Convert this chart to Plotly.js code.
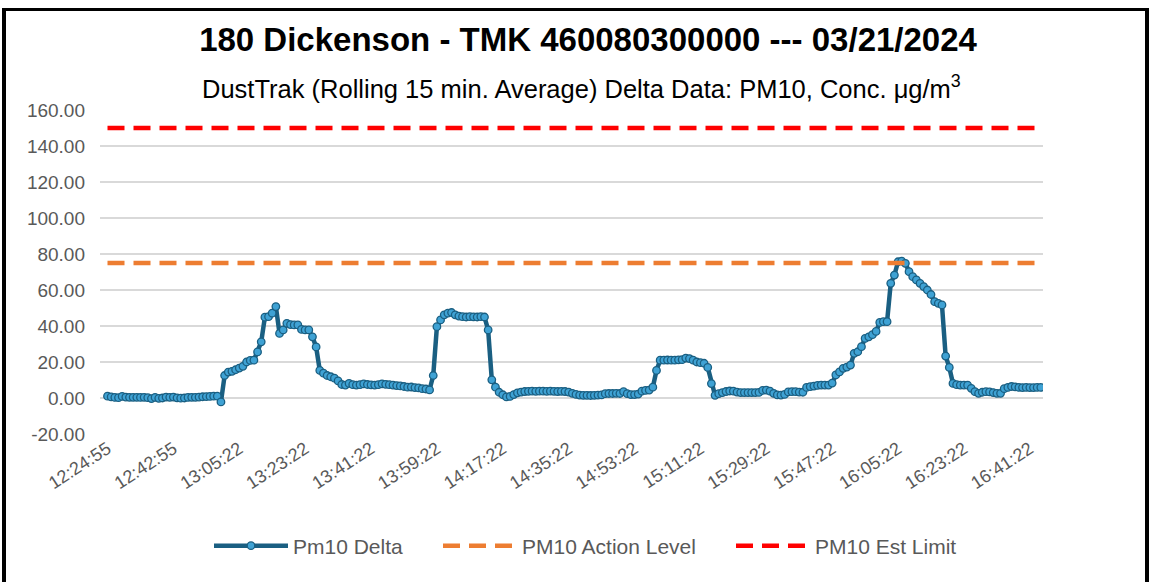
<!DOCTYPE html>
<html>
<head>
<meta charset="utf-8">
<script src="https://cdn.plot.ly/plotly-3.0.1.min.js"></script>
<style>
  html, body { margin: 0; padding: 0; background: #fff; }
  #wrap { position: relative; width: 1153px; height: 582px; overflow: hidden; }
  #chart { position: absolute; left: 0; top: 0; width: 1153px; height: 582px; }
  #frame { position: absolute; left: 2px; top: 8px; width: 1139px; height: 600px;
           border-left: 4px solid #000; border-top: 3px solid #000; border-right: 4px solid #000;
           pointer-events: none; }
</style>
</head>
<body>
<div id="wrap">
  <div id="chart"></div>
  <div id="frame"></div>
</div>
<script>
// Tick labels shown every 18 readings on the category axis
const tickLabels = ["12:24:55","12:42:55","13:05:22","13:23:22","13:41:22","13:59:22","14:17:22",
  "14:35:22","14:53:22","15:11:22","15:29:22","15:47:22","16:05:22","16:23:22","16:41:22"];
const labelStep = 18;

// Y axis tick values
const yTicks = [-20, 0, 20, 40, 60, 80, 100, 120, 140, 160];

// Pm10 Delta readings (rolling 15 min average), one per category
const pm10Delta = [
  1.0, 0.6, 0.3, 0.2, 0.9, 0.5, 0.4, 0.4, 0.4, 0.3, 0.4, 0.2, -0.3, 0.3, -0.2, 0.0, 0.5, 0.4, 0.5, 0.1,
  -0.1, 0.0, 0.3, 0.4, 0.4, 0.5, 0.7, 0.8, 0.9, 1.0, 1.0,
  -2.2, 12.5, 14.4, 14.8, 15.7, 16.6, 17.6, 20.0, 20.9, 21.0,
  25.6, 31.2, 44.9, 45.2, 47.1, 50.8, 35.9, 37.8, 41.5, 40.8,
  40.6, 40.6, 38.1, 37.8, 37.8, 34.0, 28.4, 15.3, 13.8, 12.5,
  11.8, 11.0, 9.5, 7.5, 7.2, 8.1, 7.4, 7.2, 7.4, 7.8,
  7.5, 7.3, 7.2, 7.4, 7.9, 7.6, 7.4, 7.2, 6.9, 6.7,
  6.4, 6.0, 6.1, 5.8, 5.6, 5.2, 5.0, 4.5, 12.5, 39.6,
  43.4, 46.2, 47.1, 47.5, 46.2, 45.5, 45.2, 45.0, 45.2, 45.1,
  45.0, 45.2, 45.0, 37.8, 10.1, 6.0, 3.2, 1.8, 0.6, 0.9,
  1.9, 2.9, 3.3, 3.6, 3.7, 3.8, 3.7, 3.8, 3.8, 3.7,
  3.8, 3.7, 3.6, 3.7, 3.6, 3.3, 2.6, 2.0, 1.6, 1.5,
  1.5, 1.4, 1.5, 1.6, 1.7, 2.4, 2.5, 2.5, 2.6, 2.5,
  3.5, 2.4, 1.9, 1.9, 2.2, 3.8, 4.2, 4.4, 6.0, 15.3,
  21.0, 21.0, 21.1, 21.0, 21.0, 21.2, 21.3, 22.2, 21.9, 21.0,
  20.0, 19.6, 19.3, 17.0, 8.0, 1.5, 2.4, 3.0, 3.6, 3.9,
  3.8, 3.3, 3.0, 3.0, 3.0, 3.0, 3.0, 3.1, 4.2, 4.4,
  3.8, 2.6, 1.7, 1.6, 2.0, 3.4, 3.5, 3.5, 3.3, 3.2,
  5.9, 6.3, 6.6, 7.0, 7.2, 7.2, 7.2, 8.3, 12.8, 14.5,
  16.5, 17.2, 18.3, 24.8, 25.7, 28.5, 33.1, 34.0, 35.2, 37.0,
  42.0, 42.4, 42.4, 63.7, 68.3, 75.7, 76.0, 74.8, 70.2, 67.4,
  65.6, 63.7, 61.9, 60.0, 57.5, 53.5, 52.6, 51.7, 23.3, 17.0,
  8.1, 7.4, 7.2, 7.2, 7.1, 5.4, 3.5, 2.6, 3.2, 3.5,
  3.4, 3.0, 2.6, 2.6, 5.2, 5.9, 6.4, 6.2, 5.9, 5.8,
  5.9, 5.8, 5.8, 5.9, 5.9
];

// Reference levels
const actionLevel = 75;
const estLimit = 150;

const seriesNames = ["Pm10 Delta", "PM10 Action Level", "PM10 Est Limit"];

const lastIdx = pm10Delta.length - 1;
const tickVals = tickLabels.map((_, k) => k * labelStep);
const yTickText = yTicks.map(v => v.toFixed(2));

const FONT = "Liberation Sans, Arial, sans-serif";
const GRAY = "#595959";

const traces = [
  {
    y: pm10Delta,
    type: "scatter",
    mode: "lines+markers",
    name: seriesNames[0],
    legend: "legend",
    line: { color: "#1a5f82", width: 4.5 },
    marker: { color: "#3fa2d4", size: 7.5, line: { color: "#1a5f82", width: 1.3 } }
  },
  {
    x: [0, lastIdx],
    y: [actionLevel, actionLevel],
    type: "scatter",
    mode: "lines",
    name: seriesNames[1],
    legend: "legend2",
    line: { color: "#ED7D31", width: 4.5, dash: "17px,9px" }
  },
  {
    x: [0, lastIdx],
    y: [estLimit, estLimit],
    type: "scatter",
    mode: "lines",
    name: seriesNames[2],
    legend: "legend3",
    line: { color: "#FF0000", width: 4.5, dash: "17px,9px" }
  }
];

// legend entry start positions (pixels) converted to paper fractions
const plotL = 100, plotW = 943, plotB = 434, plotH = 324;
const legY = (plotB - 546) / plotH;
function legendAt(px) {
  return {
    orientation: "h",
    x: (px - plotL) / plotW, xanchor: "left",
    y: legY, yanchor: "middle",
    font: { family: FONT, size: 21, color: GRAY },
    itemwidth: 74,
    bgcolor: "rgba(0,0,0,0)"
  };
}

const layout = {
  width: 1153,
  height: 582,
  paper_bgcolor: "rgba(0,0,0,0)",
  plot_bgcolor: "#fff",
  margin: { l: plotL, r: 1153 - plotL - plotW, t: 110, b: 582 - plotB },
  font: { family: FONT, color: GRAY },
  title: {
    text: "<b>180 Dickenson - TMK 460080300000 --- 03/21/2024</b>",
    font: { family: FONT, size: 33, color: "#000" },
    x: 0.51, xanchor: "center",
    y: 0.932, yanchor: "middle", yref: "container"
  },
  annotations: [{
    text: "DustTrak (Rolling 15 min. Average) Delta Data: PM10, Conc. μg/m<sup>3</sup>",
    xref: "paper", yref: "paper",
    x: (581 - plotL) / plotW, y: (plotB - 87) / plotH,
    xanchor: "center", yanchor: "middle",
    showarrow: false,
    font: { family: FONT, size: 25.5, color: "#000" }
  }],
  xaxis: {
    range: [-2.05, 255.6],
    tickmode: "array",
    tickvals: tickVals,
    ticktext: tickLabels,
    tickangle: -33,
    tickfont: { family: FONT, size: 18, color: GRAY },
    showgrid: false,
    zeroline: false,
    showline: false,
    ticks: "",
    fixedrange: true
  },
  yaxis: {
    range: [-20, 160],
    tickmode: "array",
    tickvals: yTicks,
    ticktext: yTickText,
    tickfont: { family: FONT, size: 19, color: GRAY },
    gridcolor: "#d9d9d9",
    gridwidth: 1.5,
    zeroline: false,
    showline: false,
    ticks: "",
    ticklabelstandoff: 14,
    fixedrange: true
  },
  showlegend: true,
  legend: legendAt(209),
  legend2: legendAt(438),
  legend3: legendAt(731)
};

Plotly.newPlot("chart", traces, layout, { displayModeBar: false, staticPlot: true });
</script>
</body>
</html>
